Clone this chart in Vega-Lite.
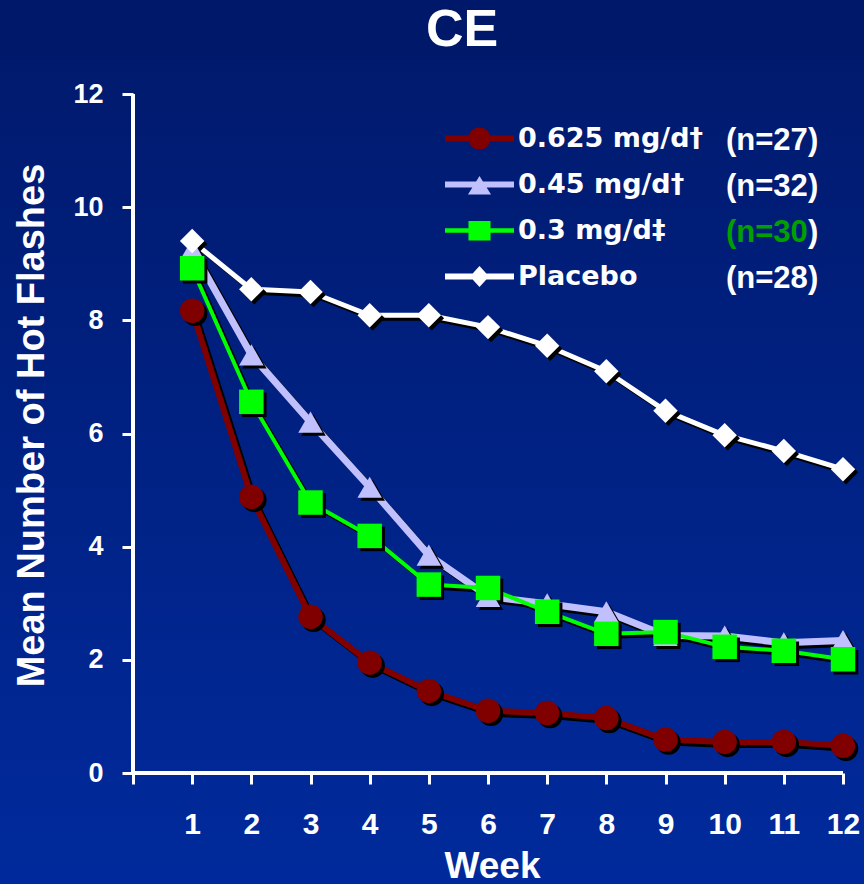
{
  "$schema": "https://vega.github.io/schema/vega-lite/v6.json",
  "width": 864,
  "height": 824,
  "padding": {"top": 60, "left": 0, "right": 0, "bottom": 0},
  "autosize": {"type": "none"},
  "background": "#00186a",
  "view": {
    "stroke": null,
    "fill": {
      "gradient": "linear",
      "x1": 0, "y1": 0, "x2": 0, "y2": 1,
      "stops": [
        {"offset": 0, "color": "#001a6e"},
        {"offset": 1, "color": "#002a9c"}
      ]
    }
  },
  "title": {
    "text": "CE",
    "color": "white",
    "font": "Liberation Sans",
    "fontSize": 52,
    "fontWeight": "bold",
    "anchor": "middle",
    "frame": "group",
    "dx": 30,
    "offset": 3
  },
  "data": {
    "values": [
      {"series": "0.625 mg/d†", "n": 27, "week": 1, "value": 8.17},
      {"series": "0.625 mg/d†", "n": 27, "week": 2, "value": 4.88},
      {"series": "0.625 mg/d†", "n": 27, "week": 3, "value": 2.76},
      {"series": "0.625 mg/d†", "n": 27, "week": 4, "value": 1.95},
      {"series": "0.625 mg/d†", "n": 27, "week": 5, "value": 1.45},
      {"series": "0.625 mg/d†", "n": 27, "week": 6, "value": 1.1},
      {"series": "0.625 mg/d†", "n": 27, "week": 7, "value": 1.06},
      {"series": "0.625 mg/d†", "n": 27, "week": 8, "value": 0.97},
      {"series": "0.625 mg/d†", "n": 27, "week": 9, "value": 0.59},
      {"series": "0.625 mg/d†", "n": 27, "week": 10, "value": 0.55},
      {"series": "0.625 mg/d†", "n": 27, "week": 11, "value": 0.55},
      {"series": "0.625 mg/d†", "n": 27, "week": 12, "value": 0.48},
      {"series": "0.45 mg/d†", "n": 32, "week": 1, "value": 9.25},
      {"series": "0.45 mg/d†", "n": 32, "week": 2, "value": 7.39},
      {"series": "0.45 mg/d†", "n": 32, "week": 3, "value": 6.2},
      {"series": "0.45 mg/d†", "n": 32, "week": 4, "value": 5.05},
      {"series": "0.45 mg/d†", "n": 32, "week": 5, "value": 3.85},
      {"series": "0.45 mg/d†", "n": 32, "week": 6, "value": 3.12},
      {"series": "0.45 mg/d†", "n": 32, "week": 7, "value": 2.99},
      {"series": "0.45 mg/d†", "n": 32, "week": 8, "value": 2.85},
      {"series": "0.45 mg/d†", "n": 32, "week": 9, "value": 2.43},
      {"series": "0.45 mg/d†", "n": 32, "week": 10, "value": 2.42},
      {"series": "0.45 mg/d†", "n": 32, "week": 11, "value": 2.3},
      {"series": "0.45 mg/d†", "n": 32, "week": 12, "value": 2.34},
      {"series": "0.3 mg/d‡", "n": 30, "week": 1, "value": 8.92},
      {"series": "0.3 mg/d‡", "n": 30, "week": 2, "value": 6.56},
      {"series": "0.3 mg/d‡", "n": 30, "week": 3, "value": 4.78},
      {"series": "0.3 mg/d‡", "n": 30, "week": 4, "value": 4.19},
      {"series": "0.3 mg/d‡", "n": 30, "week": 5, "value": 3.33},
      {"series": "0.3 mg/d‡", "n": 30, "week": 6, "value": 3.27},
      {"series": "0.3 mg/d‡", "n": 30, "week": 7, "value": 2.85},
      {"series": "0.3 mg/d‡", "n": 30, "week": 8, "value": 2.46},
      {"series": "0.3 mg/d‡", "n": 30, "week": 9, "value": 2.49},
      {"series": "0.3 mg/d‡", "n": 30, "week": 10, "value": 2.23},
      {"series": "0.3 mg/d‡", "n": 30, "week": 11, "value": 2.16},
      {"series": "0.3 mg/d‡", "n": 30, "week": 12, "value": 2.01},
      {"series": "Placebo", "n": 28, "week": 1, "value": 9.4},
      {"series": "Placebo", "n": 28, "week": 2, "value": 8.55},
      {"series": "Placebo", "n": 28, "week": 3, "value": 8.5},
      {"series": "Placebo", "n": 28, "week": 4, "value": 8.09},
      {"series": "Placebo", "n": 28, "week": 5, "value": 8.09},
      {"series": "Placebo", "n": 28, "week": 6, "value": 7.88},
      {"series": "Placebo", "n": 28, "week": 7, "value": 7.55},
      {"series": "Placebo", "n": 28, "week": 8, "value": 7.1},
      {"series": "Placebo", "n": 28, "week": 9, "value": 6.4},
      {"series": "Placebo", "n": 28, "week": 10, "value": 5.97},
      {"series": "Placebo", "n": 28, "week": 11, "value": 5.69},
      {"series": "Placebo", "n": 28, "week": 12, "value": 5.37}
    ]
  },
  "resolve": {"scale": {"shape": "independent"}},
  "encoding": {
    "x": {
      "field": "week",
      "type": "quantitative",
      "scale": {"domain": [-2.2479, 12.3549], "nice": false, "zero": false},
      "axis": {
        "values": [0, 1, 2, 3, 4, 5, 6, 7, 8, 9, 10, 11, 12],
        "offset": -111,
        "domain": false,
        "grid": false,
        "tickColor": "white",
        "tickWidth": 3,
        "tickSize": 11,
        "labelExpr": "datum.value == 0 ? '' : datum.label",
        "labelColor": "white",
        "labelFont": "Liberation Sans",
        "labelFontSize": 30,
        "labelFontWeight": "bold",
        "labelBaseline": "alphabetic",
        "labelPadding": 49,
        "labelFlush": false,
        "labelOverlap": false,
        "title": "Week",
        "titleColor": "white",
        "titleFont": "Liberation Sans",
        "titleFontSize": 37,
        "titleFontWeight": "bold",
        "titleX": 492,
        "titleY": 104,
        "titleAlign": "center",
        "titleBaseline": "alphabetic"
      }
    },
    "y": {
      "field": "value",
      "type": "quantitative",
      "scale": {"domain": [-1.9617, 12.6009], "nice": false, "zero": false},
      "axis": {
        "values": [0, 2, 4, 6, 8, 10, 12],
        "offset": -133,
        "domain": false,
        "grid": false,
        "tickColor": "white",
        "tickWidth": 3,
        "tickSize": 11,
        "labelColor": "white",
        "labelFont": "Liberation Sans",
        "labelFontSize": 27,
        "labelFontWeight": "bold",
        "labelPadding": 19,
        "labelFlush": false,
        "labelOverlap": false,
        "title": "Mean Number of Hot Flashes",
        "titleColor": "white",
        "titleFont": "Liberation Sans",
        "titleFontSize": 38,
        "titleFontWeight": "bold",
        "titleAngle": -90,
        "titleX": -90,
        "titleY": 365,
        "titleAlign": "center",
        "titleBaseline": "alphabetic"
      }
    }
  },
  "layer": [
    {
      "mark": {"type": "rule", "color": "white", "strokeWidth": 3},
      "encoding": {"x": {"datum": 0}, "x2": {"datum": 12}, "y": {"datum": 0}}
    },
    {
      "mark": {"type": "rule", "color": "white", "strokeWidth": 3},
      "encoding": {"x": {"datum": 0}, "y": {"datum": 0}, "y2": {"datum": 12}}
    },
    {
      "mark": {"type": "line", "color": "black", "xOffset": 3, "yOffset": 3, "strokeJoin": "round", "strokeCap": "round"},
      "encoding": {
        "detail": {"field": "series"},
        "strokeWidth": {
          "field": "series", "type": "nominal",
          "scale": {"type": "ordinal", "domain": ["0.625 mg/d†", "0.45 mg/d†", "0.3 mg/d‡", "Placebo"], "range": [6, 7, 4, 5]},
          "legend": null
        }
      }
    },
    {
      "mark": {"type": "line", "strokeJoin": "round", "strokeCap": "round"},
      "encoding": {
        "color": {
          "field": "series", "type": "nominal",
          "scale": {"domain": ["0.625 mg/d†", "0.45 mg/d†", "0.3 mg/d‡", "Placebo"], "range": ["#800000", "#c0c0ff", "#00ff00", "#ffffff"]},
          "legend": null
        },
        "strokeWidth": {
          "field": "series", "type": "nominal",
          "scale": {"type": "ordinal", "domain": ["0.625 mg/d†", "0.45 mg/d†", "0.3 mg/d‡", "Placebo"], "range": [6, 7, 4, 5]},
          "legend": null
        }
      }
    },
    {
      "mark": {"type": "point", "filled": true, "opacity": 1, "color": "black", "size": 600, "xOffset": 3, "yOffset": 3},
      "encoding": {
        "shape": {
          "field": "series", "type": "nominal",
          "scale": {"domain": ["0.625 mg/d†", "0.45 mg/d†", "0.3 mg/d‡", "Placebo"], "range": ["circle", "triangle-up", "square", "diamond"]},
          "legend": null
        }
      }
    },
    {
      "mark": {"type": "point", "filled": true, "opacity": 1, "size": 600, "strokeWidth": 0},
      "encoding": {
        "color": {
          "field": "series", "type": "nominal",
          "scale": {"domain": ["0.625 mg/d†", "0.45 mg/d†", "0.3 mg/d‡", "Placebo"], "range": ["#800000", "#c0c0ff", "#00ff00", "#ffffff"]},
          "legend": null
        },
        "shape": {
          "field": "series", "type": "nominal",
          "scale": {"domain": ["0.625 mg/d†", "0.45 mg/d†", "0.3 mg/d‡", "Placebo"], "range": ["circle", "triangle-up", "square", "diamond"]},
          "legend": null
        }
      }
    },
    {
      "mark": {"type": "point", "filled": true, "opacity": 0, "size": 576, "strokeWidth": 0},
      "encoding": {
        "color": {
          "field": "series", "type": "nominal",
          "scale": {"domain": ["0.625 mg/d†", "0.45 mg/d†", "0.3 mg/d‡", "Placebo"], "range": ["#800000", "#c0c0ff", "#00ff00", "#ffffff"]},
          "legend": null
        },
        "shape": {
          "field": "series", "type": "nominal",
          "scale": {
            "domain": ["0.625 mg/d†", "0.45 mg/d†", "0.3 mg/d‡", "Placebo"],
            "range": [
              "M-2.875,-0.25H2.875V0.25H-2.875Z M-0.92,0A0.92,0.92 0 1,1 0.92,0A0.92,0.92 0 1,1 -0.92,0Z",
              "M-2.875,-0.25H2.875V0.25H-2.875Z M0,-0.7L0.96,0.83L-0.96,0.83Z",
              "M-2.875,-0.18H2.875V0.18H-2.875Z M-0.92,-0.8H0.92V0.83H-0.92Z",
              "M-2.875,-0.25H2.875V0.25H-2.875Z M-0.8,0L0,-0.88L0.8,0L0,0.88Z"
            ]
          },
          "legend": {
            "orient": "none",
            "legendX": 466,
            "legendY": 65,
            "title": null,
            "padding": 0,
            "symbolSize": 576,
            "symbolStrokeWidth": 0,
            "symbolOpacity": 1,
            "symbolFillColor": {"expr": "['#800000', '#c0c0ff', '#00ff00', '#ffffff'][datum.index]"},
            "labelFont": "DejaVu Sans",
            "labelFontSize": 27,
            "labelFontWeight": "bold",
            "labelColor": "white",
            "labelOffset": 25,
            "labelLimit": 400,
            "rowPadding": 18
          }
        }
      }
    },
    {
      "mark": {"type": "point", "filled": true, "opacity": 0, "size": 10},
      "encoding": {
        "shape": {
          "field": "n", "type": "nominal",
          "scale": {"domain": [27, 32, 30, 28], "range": ["circle", "circle", "circle", "circle"]},
          "legend": {
            "orient": "none",
            "legendX": 695,
            "legendY": 65,
            "title": null,
            "padding": 0,
            "symbolSize": 1,
            "symbolOpacity": 0,
            "labelExpr": "'(n=' + datum.label",
            "labelColor": {"expr": "datum.value == 30 ? '#00a000' : '#ffffff'"},
            "labelFont": "Liberation Sans",
            "labelFontSize": 31,
            "labelFontWeight": "bold",
            "labelOffset": 0,
            "rowPadding": 14
          }
        }
      }
    },
    {
      "mark": {"type": "point", "filled": true, "opacity": 0, "size": 10},
      "encoding": {
        "shape": {
          "field": "n", "type": "nominal",
          "scale": {"domain": [28, 30, 32, 27], "range": ["circle", "circle", "circle", "circle"]},
          "legend": {
            "orient": "none",
            "legendX": 777,
            "legendY": 65,
            "title": null,
            "padding": 0,
            "symbolSize": 1,
            "symbolOpacity": 0,
            "labelExpr": "')'",
            "labelColor": "#ffffff",
            "labelFont": "Liberation Sans",
            "labelFontSize": 31,
            "labelFontWeight": "bold",
            "labelOffset": 0,
            "rowPadding": 14
          }
        }
      }
    }
  ]
}
